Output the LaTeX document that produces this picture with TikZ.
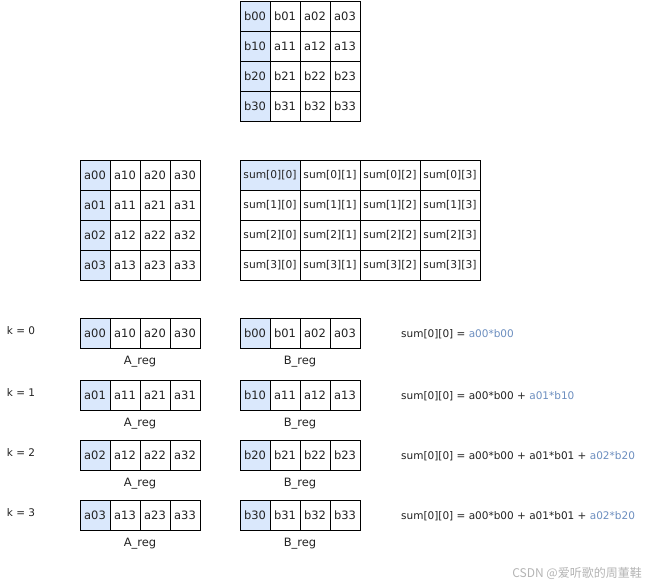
\documentclass[tikz,border=0pt]{standalone}
\usepackage{fontspec}
\setmainfont{DejaVu Sans}
\newfontfamily\cjk{Noto Sans CJK SC}
\definecolor{hlblue}{HTML}{DAE8FC}
\definecolor{txtblue}{HTML}{6C8EBF}
\definecolor{wmgray}{HTML}{B4B4B4}
\definecolor{txtdark}{HTML}{222222}
\begin{document}
\begin{tikzpicture}[x=1pt,y=-1pt,
  cellbox/.style={draw=black,line width=0.8pt,minimum width=30pt,minimum height=30pt,inner sep=0pt,
    text=txtdark,font=\fontsize{11.5}{13}\selectfont},
  widebox/.style={cellbox,minimum width=60pt,font=\fontsize{10.7}{12}\selectfont},
  lbl/.style={inner sep=0pt,text=txtdark,font=\fontsize{11.5}{13}\selectfont},
  klbl/.style={inner sep=0pt,text=txtdark,font=\fontsize{10.5}{12}\selectfont},
  formula/.style={klbl,anchor=west}]
\useasboundingbox (0,0) rectangle (651,586);
% top B matrix
\foreach \row [count=\i from 0] in {{b00,b01,a02,a03},{b10,a11,a12,a13},{b20,b21,b22,b23},{b30,b31,b32,b33}}{
  \foreach \c [count=\j from 0] in \row {
    \ifnum\j=0 \def\fc{hlblue}\else\def\fc{white}\fi
    \node[cellbox,fill=\fc] (B-\i-\j) at (255+30*\j,16+30*\i) {\c};
  }
}
% A matrix
\foreach \row [count=\i from 0] in {{a00,a10,a20,a30},{a01,a11,a21,a31},{a02,a12,a22,a32},{a03,a13,a23,a33}}{
  \foreach \c [count=\j from 0] in \row {
    \ifnum\j=0 \def\fc{hlblue}\else\def\fc{white}\fi
    \node[cellbox,fill=\fc] (A-\i-\j) at (95+30*\j,175+30*\i) {\c};
  }
}
% sum matrix
\foreach \i in {0,...,3}{
  \foreach \j in {0,...,3}{
    \ifnum\i=0 \ifnum\j=0 \def\fc{hlblue}\else\def\fc{white}\fi \else\def\fc{white}\fi
    \node[widebox,fill=\fc] (S-\i-\j) at (270+60*\j,175+30*\i) {sum[\i][\j]};
  }
}
% register rows
\foreach \k/\yy/\arow/\brow in {0/333/{a00,a10,a20,a30}/{b00,b01,a02,a03},
                                1/395/{a01,a11,a21,a31}/{b10,a11,a12,a13},
                                2/455/{a02,a12,a22,a32}/{b20,b21,b22,b23},
                                3/515/{a03,a13,a23,a33}/{b30,b31,b32,b33}}{
  \node[klbl] (k-\k) at (21,\yy-2) {k = \k};
  \foreach \c [count=\j from 0] in \arow {
    \ifnum\j=0 \def\fc{hlblue}\else\def\fc{white}\fi
    \node[cellbox,fill=\fc] (RA-\k-\j) at (95+30*\j,\yy) {\c};
  }
  \foreach \c [count=\j from 0] in \brow {
    \ifnum\j=0 \def\fc{hlblue}\else\def\fc{white}\fi
    \node[cellbox,fill=\fc] (RB-\k-\j) at (255+30*\j,\yy) {\c};
  }
  \node[lbl] (la-\k) at (140,\yy+29) {A\_reg};
  \node[lbl] (lb-\k) at (300,\yy+29) {B\_reg};
}
\node[formula] (f0) at (401,334) {sum[0][0] = \textcolor{txtblue}{a00*b00}};
\node[formula] (f1) at (401,396) {sum[0][0] = a00*b00 + \textcolor{txtblue}{a01*b10}};
\node[formula] (f2) at (401,456) {sum[0][0] = a00*b00 + a01*b01 + \textcolor{txtblue}{a02*b20}};
\node[formula] (f3) at (401,516) {sum[0][0] = a00*b00 + a01*b01 + \textcolor{txtblue}{a02*b20}};
\node[inner sep=0pt,anchor=east,text=wmgray,font=\cjk\fontsize{12}{14}\selectfont] (wm) at (642,573) {CSDN @爱听歌的周董鞋};
\end{tikzpicture}
\end{document}
